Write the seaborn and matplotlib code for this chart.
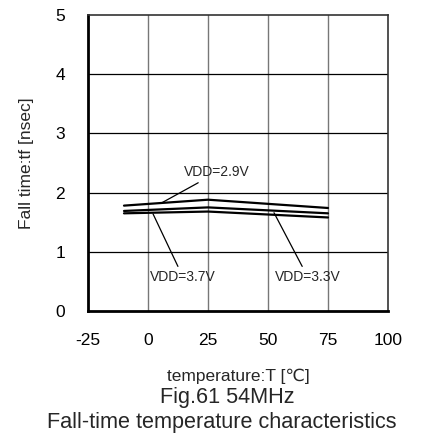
import matplotlib
matplotlib.use('Agg')
import matplotlib.pyplot as plt
import seaborn as sns
import pandas as pd

sns.set_theme(style="white")
plt.rcParams['font.family'] = ['Liberation Sans', 'DejaVu Sans']
plt.rcParams['axes.unicode_minus'] = False

# data
temps = [-10, 25, 75]
vdd_29 = [1.78, 1.88, 1.74]
vdd_33 = [1.69, 1.75, 1.65]
vdd_37 = [1.65, 1.68, 1.58]
series = ['VDD=2.9V', 'VDD=3.3V', 'VDD=3.7V']
x_ticks = [-25, 0, 25, 50, 75, 100]
y_ticks = [0, 1, 2, 3, 4, 5]

df = pd.DataFrame({
    'T': temps * 3,
    'tf': vdd_29 + vdd_33 + vdd_37,
    'VDD': [s for s in series for _ in temps],
})

fig = plt.figure(figsize=(4.22, 4.38), dpi=100)
ax = fig.add_axes([88 / 422, 1 - 311 / 438, 300 / 422, 296 / 438])

sns.lineplot(data=df, x='T', y='tf', units='VDD', estimator=None,
             color='black', linewidth=1.6, legend=False, ax=ax)

ax.set_xlim(-25, 100)
ax.set_ylim(0, 5)
ax.set_xticks(x_ticks)
ax.set_yticks(y_ticks)
ax.tick_params(axis='both', length=0, labelsize=12.5, colors='black')
ax.tick_params(axis='x', pad=16)
ax.tick_params(axis='y', pad=16.5)

# grid: vertical gray, horizontal black
for xv in x_ticks[1:-1]:
    ax.axvline(xv, color='#777777', linewidth=1.0, zorder=0)
for yv in y_ticks[1:-1]:
    ax.axhline(yv, color='black', linewidth=0.9, zorder=0)

for side in ['left', 'bottom']:
    ax.spines[side].set_linewidth(2.0)
    ax.spines[side].set_color('black')
for side in ['top', 'right']:
    ax.spines[side].set_linewidth(1.2)
    ax.spines[side].set_color('#333333')

ax.set_xlabel('temperature:T [℃]', fontsize=12.5)
ax.xaxis.set_label_coords(0.5, -(381.5 - 311) / 296)
ax.xaxis.label.set_va('baseline')
ax.set_ylabel('Fall time:tf [nsec]', fontsize=12.5)
ax.yaxis.set_label_coords((27 - 88) / 300, 0.5)
ax.yaxis.label.set_va('center')

# leader-line labels
arrow = dict(arrowstyle='-', color='black', linewidth=0.9, shrinkA=0, shrinkB=0)
ax.annotate('VDD=2.9V', xy=(5.4, 1.82), xytext=(15, 2.34), fontsize=10,
            va='center', ha='left', arrowprops=arrow)
ax.annotate('VDD=3.7V', xy=(2.1, 1.64), xytext=(0.8, 0.58), fontsize=10,
            va='center', ha='left', arrowprops=arrow)
ax.annotate('VDD=3.3V', xy=(52.5, 1.66), xytext=(52.8, 0.58), fontsize=10,
            va='center', ha='left', arrowprops=arrow)

fig.text(227 / 422, 1 - 403 / 438, 'Fig.61 54MHz', ha='center', va='baseline', fontsize=15.6)
fig.text(222 / 422, 1 - 428 / 438, 'Fall-time temperature characteristics',
         ha='center', va='baseline', fontsize=15.6)

fig.savefig('out.png', dpi=100)
